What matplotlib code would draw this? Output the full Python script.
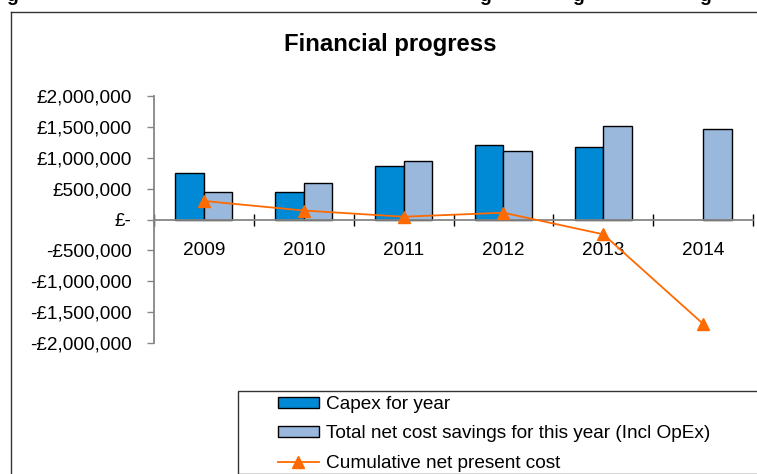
import matplotlib
matplotlib.use("Agg")
import matplotlib.pyplot as plt
from matplotlib.lines import Line2D
from matplotlib.patches import Rectangle
from matplotlib.ticker import FuncFormatter
import numpy as np

plt.rcParams['font.family'] = ['Liberation Sans', 'DejaVu Sans']

# Data (GBP)
years = ['2009', '2010', '2011', '2012', '2013', '2014']
capex = [760000, 440000, 860000, 1200000, 1170000, 0]
savings = [440000, 585000, 955000, 1105000, 1520000, 1465000]
cumulative_npc = [300000, 145000, 45000, 110000, -240000, -1690000]

capex_colour = '#0089D4'
savings_colour = '#99B8DC'
line_colour = '#FF6A00'
axis_grey = '#868686'

W, H = 757, 474


def fx(x):
    return x / W


def fy(y):
    return 1 - y / H


def money(v, pos=None):
    if v == 0:
        return '£-'
    sign = '-' if v < 0 else ''
    return f'{sign}£{abs(v):,.0f}'


fig = plt.figure(figsize=(W / 100, H / 100), dpi=100)

# chart area border (only top and left edges are in view)
fig.add_artist(Line2D([fx(11), fx(11)], [fy(12), 0], transform=fig.transFigure,
                      color='#333333', lw=1.0))
fig.add_artist(Line2D([fx(11), 1], [fy(12), fy(12)], transform=fig.transFigure,
                      color='#333333', lw=1.0))

# descenders of the caption line above the chart
for gx in [12, 485, 578, 705]:
    fig.text(fx(gx), fy(1.0), 'g', fontsize=14, fontweight='bold',
             ha='center', va='baseline')

fig.text(fx(390), fy(44), 'Financial progress', fontsize=17.2, fontweight='bold',
         ha='center', va='center')

ax = fig.add_axes([fx(154), fy(343), fx(753) - fx(154), fy(96) - fy(343)])

x = np.arange(len(years))
bw = 1 / 3.5
capex_edges = ['black' if v else 'none' for v in capex]
ax.bar(x - bw / 2, capex, width=bw, color=capex_colour, edgecolor=capex_edges,
       linewidth=1.0, label='Capex for year', zorder=2)
ax.bar(x + bw / 2, savings, width=bw, color=savings_colour, edgecolor='black',
       linewidth=1.0, label='Total net cost savings for this year (Incl OpEx)', zorder=2)
ax.plot(x, cumulative_npc, color=line_colour, lw=1.3, marker='^', markersize=8,
        label='Cumulative net present cost', zorder=3)

ax.set_xlim(-0.5, len(years) - 0.5)
ax.set_ylim(-2000000, 2000000)
ax.set_yticks(np.arange(-2000000, 2000001, 500000))
ax.yaxis.set_major_formatter(FuncFormatter(money))
ax.tick_params(axis='y', direction='out', length=5, width=1, color=axis_grey,
               labelsize=13.7, pad=11)

# category boundaries as cross ticks, year labels at centres
ax.set_xticks(np.arange(-0.5, len(years)), labels=[''] * (len(years) + 1))
ax.set_xticks(x, labels=years, minor=True)
ax.tick_params(axis='x', which='major', direction='inout', length=9, width=1,
               color='black')
ax.tick_params(axis='x', which='minor', length=0, labelsize=13.7, pad=16)

for side in ['top', 'right']:
    ax.spines[side].set_visible(False)
ax.spines['bottom'].set_position(('data', 0))
ax.spines['bottom'].set_color(axis_grey)
ax.spines['left'].set_color(axis_grey)
ax.spines['bottom'].set_linewidth(1.3)
ax.spines['left'].set_linewidth(1.3)
ax.patch.set_visible(False)

# legend box running off the bottom-right
fig.add_artist(Rectangle((fx(238), 0), 1 - fx(238) + 0.01, fy(391),
                         transform=fig.transFigure, facecolor='white',
                         edgecolor='#333333', lw=1.0))
handles, labels = ax.get_legend_handles_labels()
order = [1, 2, 0]
fig.legend([handles[i] for i in order], [labels[i] for i in order],
           loc='upper left', bbox_to_anchor=(fx(278), fy(396)), frameon=False,
           fontsize=13.7, handlelength=2.15, handleheight=0.5, handletextpad=0.35,
           labelspacing=0.65, borderaxespad=0, borderpad=0, numpoints=1)

fig.savefig('out.png', dpi=100)
